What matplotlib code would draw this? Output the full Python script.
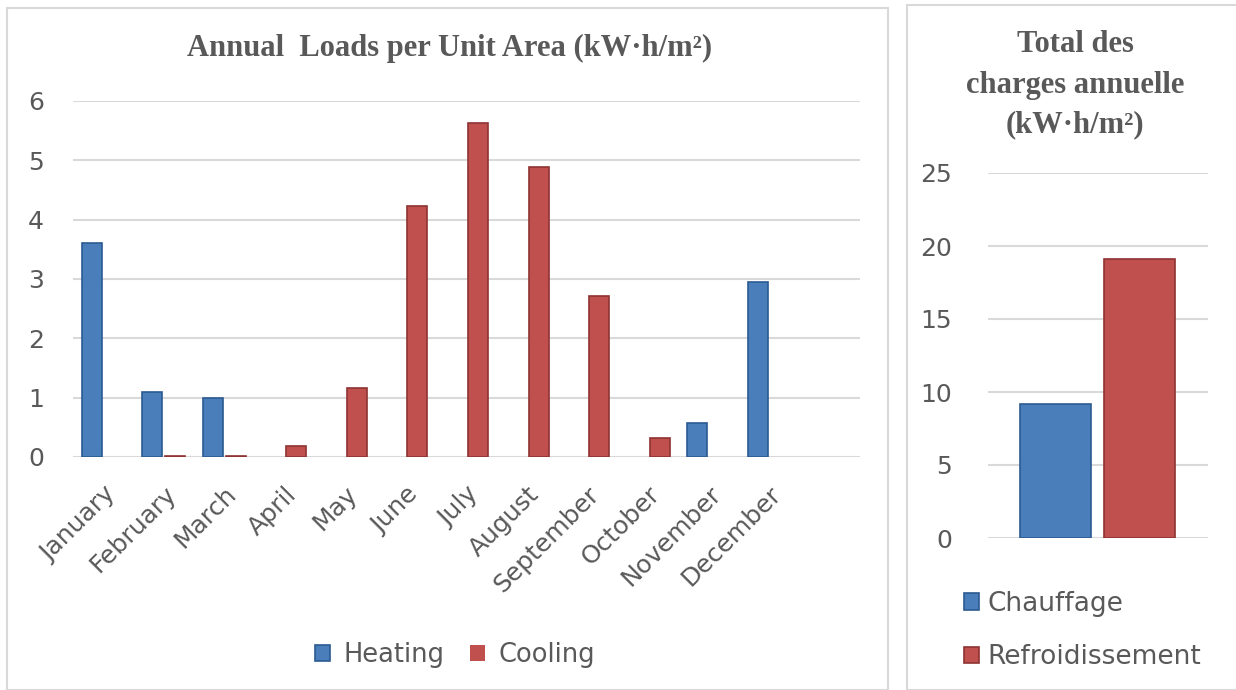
import matplotlib.pyplot as plt
import numpy as np
from matplotlib.patches import Rectangle

MONTHS = ["January", "February", "March", "April", "May", "June", "July",
          "August", "September", "October", "November", "December"]
HEATING = [3.6, 1.1, 1.0, 0.0, 0.0, 0.0, 0.0, 0.0, 0.0, 0.0, 0.57, 2.95]
COOLING = [0.0, 0.02, 0.02, 0.19, 1.16, 4.23, 5.63, 4.89, 2.72, 0.32, 0.0, 0.0]
TOTAL_LABELS = ["Chauffage", "Refroidissement"]
TOTALS = [9.2, 19.1]

BLUE, BLUE_EDGE = "#4A7EBB", "#2B5A91"
RED, RED_EDGE = "#C0504D", "#8E3432"
TEXT = "#595959"
GRID = "#D9D9D9"
W, H = 1236, 690

fig = plt.figure(figsize=(W / 100, H / 100), dpi=100)

# panel frames
for x0, y0, w, h in ((7, 0, 881, 682), (907, 0, 340, 685)):
    fig.patches.append(Rectangle((x0 / W, y0 / H), w / W, h / H,
                                 transform=fig.transFigure, fill=False,
                                 edgecolor=GRID, linewidth=1.5))


def edge_widths(values):
    return [1.2 if v > 0 else 0 for v in values]


# monthly loads
ax = fig.add_axes([73 / W, 1 - 457 / H, 787 / W, 356 / H])
x = np.arange(len(MONTHS))
ax.bar(x - 0.19, HEATING, 0.33, color=BLUE, edgecolor=BLUE_EDGE,
       linewidth=edge_widths(HEATING), label="Heating", zorder=3)
ax.bar(x + 0.19, COOLING, 0.33, color=RED, edgecolor=RED_EDGE,
       linewidth=edge_widths(COOLING), label="Cooling", zorder=3)
ax.set_xlim(-0.5, 12.5)
ax.set_ylim(0, 6)
ax.set_yticks(range(7))
ax.set_xticks(x)
ax.set_xticklabels(MONTHS, rotation=45, ha="right", rotation_mode="anchor")
ax.grid(axis="y", color=GRID, linewidth=1.5, zorder=0)
ax.tick_params(length=0, labelsize=18, colors=TEXT)
ax.tick_params(axis="y", pad=21)
ax.tick_params(axis="x", pad=18)
for s in ax.spines.values():
    s.set_visible(False)
fig.text(450 / W, 1 - 48 / H, "Annual  Loads per Unit Area (kW·h/m²)",
         family="Liberation Serif", fontweight="bold", fontsize=22, color=TEXT,
         ha="center", va="center")
ax.legend(loc="center", bbox_to_anchor=(455 / W, 1 - 655 / H),
          bbox_transform=fig.transFigure, ncol=2, frameon=False, fontsize=18.5,
          labelcolor=TEXT, handlelength=0.6, handleheight=0.6, handletextpad=0.5,
          columnspacing=1.0)

# annual totals
ax2 = fig.add_axes([988 / W, 1 - 538 / H, 220 / W, 365 / H])
ax2.bar([-0.2], TOTALS[0], 0.338, color=BLUE, edgecolor=BLUE_EDGE, linewidth=1.2,
        label=TOTAL_LABELS[0], zorder=3)
ax2.bar([0.2], TOTALS[1], 0.338, color=RED, edgecolor=RED_EDGE, linewidth=1.2,
        label=TOTAL_LABELS[1], zorder=3)
ax2.set_xlim(-0.52, 0.526)
ax2.set_ylim(0, 25)
ax2.set_yticks(range(0, 26, 5))
ax2.set_xticks([])
ax2.grid(axis="y", color=GRID, linewidth=1.5, zorder=0)
ax2.tick_params(length=0, labelsize=18, colors=TEXT, pad=26)
for s in ax2.spines.values():
    s.set_visible(False)
fig.text(1075 / W, 1 - 85 / H, "Total des\ncharges annuelle\n(kW·h/m²)",
         family="Liberation Serif", fontweight="bold", fontsize=22, color=TEXT,
         ha="center", va="center", linespacing=1.5)
ax2.legend(loc="upper left", bbox_to_anchor=(953 / W, 1 - 580 / H),
           bbox_transform=fig.transFigure, frameon=False, fontsize=19,
           labelcolor=TEXT, handlelength=0.6, handleheight=0.6, handletextpad=0.3,
           labelspacing=1.05, borderaxespad=0)

fig.savefig("out.png", dpi=100)
